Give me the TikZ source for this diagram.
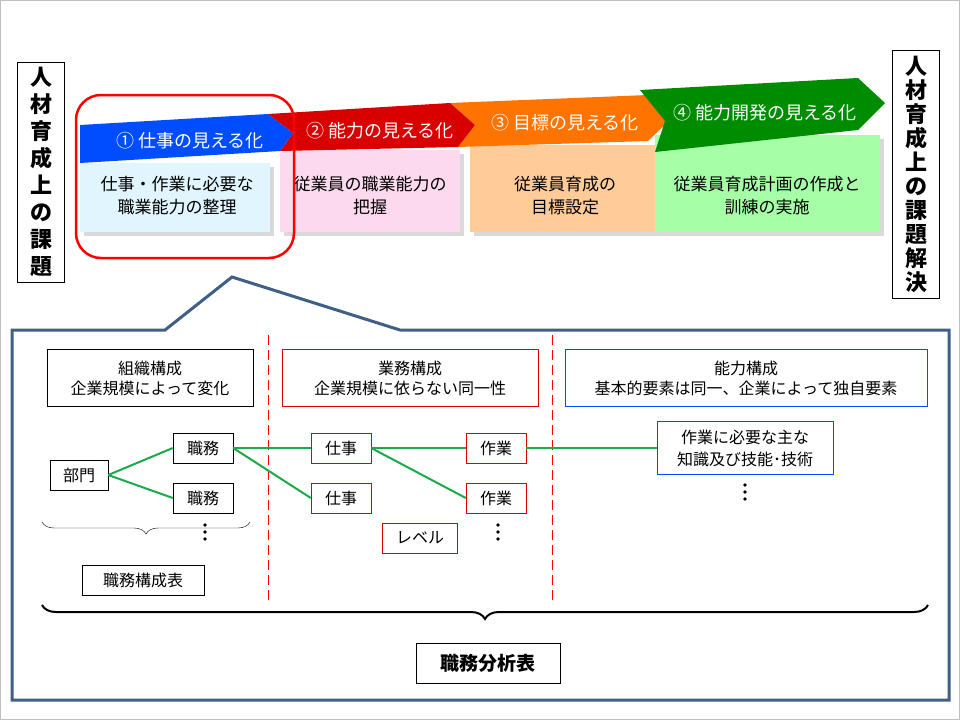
\documentclass[tikz,border=0pt]{standalone}
\usepackage{fontspec}
\setmainfont{Noto Sans CJK JP}
\usetikzlibrary{decorations.pathreplacing}
\definecolor{frameblue}{HTML}{3F5F86}
\definecolor{linegreen}{HTML}{1AAA4A}
\tikzset{
    item/.style={draw=black, fill=white, inner sep=3pt, minimum height=30pt, font=\fontsize{16}{18}\selectfont},
    reditem/.style={item, draw=red!85!black},
    head/.style={draw, align=center, font=\fontsize{16}{20}\selectfont, inner sep=0pt},
    step text/.style={white, font=\fontsize{18}{20}\selectfont},
    box text/.style={align=center, font=\fontsize{17}{23}\selectfont},
    link/.style={draw=linegreen, line width=2pt},
    vdots/.style={fill, circle, inner sep=1.3pt},
    title/.style={draw, thick, fill=white, align=center, font=\bfseries\fontsize{22}{27}\selectfont, inner sep=0pt}
}
\newcommand{\dotcol}[2]{\foreach \k in {0,1,2} {\node[vdots] (dot#1\k) at (#2,{\k*7}) {};}}
\begin{document}
\begin{tikzpicture}[x=1pt, y=-1pt]
    \useasboundingbox (0,0) rectangle (960,720);
    \draw[gray!50] (0.5,0.5) rectangle (959.5,719.5);
    % side titles
    \node[title, minimum width=47pt, minimum height=220pt] (issue) at (41,172)
        {人\\材\\育\\成\\上\\の\\課\\題};
    \node[title, minimum width=47pt, minimum height=248pt, font=\bfseries\fontsize{22}{24}\selectfont] (solve) at (916,174)
        {人\\材\\育\\成\\上\\の\\課\\題\\解\\決};
    % boxes under arrows
    \fill[black!15] (84,167) rectangle (274,236);
    \fill[cyan!12] (80,163) rectangle (270,232);
    \fill[black!15] (284,154) rectangle (464,236);
    \fill[magenta!15] (280,150) rectangle (460,232);
    \fill[black!15] (474,149) rectangle (664,236);
    \fill[orange!40] (470,145) rectangle (660,232);
    \fill[black!15] (659,139) rectangle (884,236);
    \fill[green!35] (655,135) rectangle (880,232);
    % arrows
    \fill[orange!90!red] (450,103) -- (648,95) -- (672,118) -- (648,141) -- (458,147) -- (475,125) -- cycle;
    \fill[green!55!black] (640,90) -- (858,78) -- (885,103) -- (858,130) -- (655,152) -- (665,121) -- cycle;
    \fill[red!85!black] (268,114) -- (450,103) -- (475,125) -- (458,147) -- (280,151) -- (293,133) -- cycle;
    \fill[blue!70!cyan] (80,125) -- (268,114) -- (293,133) -- (280,151) -- (80,163) -- cycle;
    \node[step text] (s1) at (190,141) {① 仕事の見える化};
    \node[step text] (s2) at (380,131) {② 能力の見える化};
    \node[step text] (s3) at (565,123) {③ 目標の見える化};
    \node[step text] (s4) at (765,113) {④ 能力開発の見える化};
    \node[box text] (b1) at (177,196) {仕事・作業に必要な\\職業能力の整理};
    \node[box text] (b2) at (370,196) {従業員の職業能力の\\把握};
    \node[box text] (b3) at (565,196) {従業員育成の\\目標設定};
    \node[box text] (b4) at (767,196) {従業員育成計画の作成と\\訓練の実施};
    \draw[red, line width=2.5pt, rounded corners=25pt] (76,95) rectangle (294,258);
    % callout frame
    \draw[frameblue, line width=3pt, fill=white] (12,330) -- (165,330) -- (232,277) -- (400,330)
        -- (949,330) -- (949,700) -- (12,700) -- cycle;
    \draw[red, dash pattern=on 10pt off 5pt, thick] (268,335) -- (268,600) (552,335) -- (552,600);
    % column heads
    \node[head, minimum width=206pt, minimum height=57pt] (org) at (150,378)
        {組織構成\\企業規模によって変化};
    \node[head, draw=red!85!black, minimum width=256pt, minimum height=57pt] (work) at (410,378)
        {業務構成\\企業規模に依らない同一性};
    \node[head, draw=blue!70!cyan, minimum width=362pt, minimum height=57pt] (skill) at (746,378)
        {能力構成\\基本的要素は同一、企業によって独自要素};
    % nodes
    \node[item, minimum width=58pt] (dept) at (79,475) {部門};
    \node[item, minimum width=60pt] (job1) at (203,448) {職務};
    \node[item, minimum width=60pt] (job2) at (203,498) {職務};
    \node[reditem, minimum width=60pt] (task1) at (341,448) {仕事};
    \node[reditem, minimum width=60pt] (task2) at (341,498) {仕事};
    \node[reditem, minimum width=60pt] (op1) at (496,448) {作業};
    \node[reditem, minimum width=60pt] (op2) at (496,498) {作業};
    \node[reditem, minimum width=75pt] (level) at (420,538) {レベル};
    \node[item, draw=blue!70!cyan, align=center, minimum width=176pt, minimum height=53pt,
        font=\fontsize{16}{22}\selectfont] (know) at (745,448)
        {作業に必要な主な\\知識及び技能･技術};
    \node[item, minimum width=122pt] (table) at (143,580) {職務構成表};
    \begin{scope}[yshift=-525pt]\dotcol{a}{205}\dotcol{b}{498}\end{scope}
    \begin{scope}[yshift=-485pt]\dotcol{c}{745}\end{scope}
    % links
    \draw[link] (dept.east) -- (job1.west);
    \draw[link] (dept.east) -- (job2.west);
    \draw[link] (job1.east) -- (task1.west);
    \draw[link] (job1.east) -- (task2.west);
    \draw[link] (task1.east) -- (op1.west);
    \draw[link] (task1.east) -- (op2.west);
    \draw[link] (op1.east) -- (know.west);
    % braces
    \draw[decorate, decoration={brace, mirror, amplitude=12pt}] (42,522) -- (250,522);
    \draw[decorate, decoration={brace, mirror, amplitude=14pt}, line width=2pt] (42,605) -- (928,605);
    \node[title, minimum width=144pt, minimum height=40pt, font=\bfseries\fontsize{19}{22}\selectfont] (sheet) at (488,663) {職務分析表};
\end{tikzpicture}
\end{document}
